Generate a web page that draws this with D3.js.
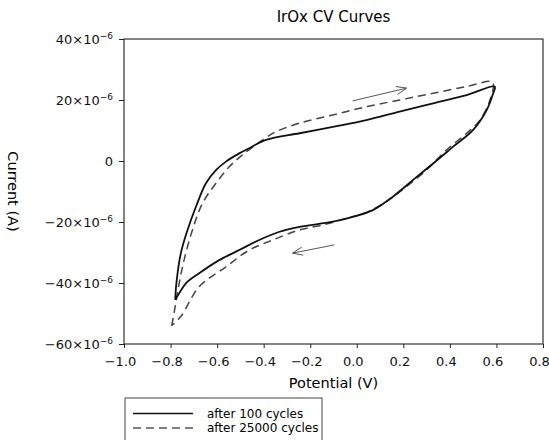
<!DOCTYPE html>
<html>
<head>
<meta charset="utf-8">
<script src="https://cdn.jsdelivr.net/npm/d3@7"></script>
<style>
  body { margin: 0; background: #fff; }
  svg { font-family: "DejaVu Sans", sans-serif; }
  .axis path, .axis line { stroke: #222; }
</style>
</head>
<body>
<svg width="549" height="440"></svg>
<script>
// potential (V) and current (x10^-6 A), after 100 cycles
var solidV = [-0.780, -0.775, -0.756, -0.727, -0.691, -0.648, -0.605, -0.562, -0.505, -0.462, -0.390, -0.246, -0.103, 0.041, 0.184, 0.328, 0.472, 0.593,
  0.586, 0.558, 0.500, 0.414, 0.328, 0.242, 0.155, 0.069, -0.017, -0.103, -0.246, -0.332, -0.419, -0.505, -0.591, -0.677, -0.734, -0.763, -0.780];
var solidI = [-45.5, -40.1, -30.3, -22.6, -15.0, -7.3, -3.0, -0.2, 2.5, 4.2, 6.9, 9.1, 11.2, 13.4, 16.2, 18.9, 21.6, 24.4,
  22.2, 16.7, 10.2, 4.7, -0.8, -6.2, -11.7, -16.1, -18.3, -19.9, -21.6, -23.2, -25.9, -29.2, -32.5, -36.8, -40.1, -43.4, -45.5];

// after 25000 cycles
var dashV = [-0.795, -0.785, -0.763, -0.742, -0.706, -0.663, -0.605, -0.548, -0.491, -0.404, -0.347, -0.246, -0.103, 0.041, 0.184, 0.328, 0.472, 0.583,
  0.572, 0.529, 0.472, 0.385, 0.299, 0.213, 0.127, 0.041, -0.045, -0.131, -0.246, -0.361, -0.462, -0.562, -0.677, -0.756, -0.795];
var dashI = [-54.0, -49.9, -40.1, -32.5, -22.6, -13.9, -7.3, -1.9, 2.0, 6.9, 9.6, 12.4, 15.1, 17.8, 20.0, 22.2, 24.4, 25.8,
  20.0, 13.4, 9.1, 3.6, -3.0, -8.4, -13.3, -16.9, -18.8, -20.7, -22.6, -25.9, -29.2, -34.7, -41.2, -51.0, -54.0];

var xTicks = [-1.0, -0.8, -0.6, -0.4, -0.2, 0.0, 0.2, 0.4, 0.6, 0.8];
var yTicks = [40, 20, 0, -20, -40, -60];

// arrows: [v0, i0, v1, i1]
var arrowUp = [-0.018, 19.7, 0.214, 23.9];
var arrowDown = [-0.096, -27.5, -0.276, -30.2];

var svg = d3.select("svg"),
  margin = { top: 39, right: 6, bottom: 96, left: 124 },
  width = +svg.attr("width") - margin.left - margin.right,
  height = +svg.attr("height") - margin.top - margin.bottom;

var x = d3.scaleLinear().domain([-1.0, 0.8]).range([0, width]);
var y = d3.scaleLinear().domain([-60, 40]).range([height, 0]);

var g = svg.append("g")
  .attr("transform", "translate(" + margin.left + "," + margin.top + ")");

// frame
g.append("rect")
  .attr("width", width).attr("height", height)
  .attr("fill", "none").attr("stroke", "#333").attr("stroke-width", 1.2);

var xAxis = g.append("g")
  .attr("class", "axis")
  .attr("transform", "translate(0," + height + ")")
  .call(d3.axisBottom(x).tickValues(xTicks).tickSize(4).tickSizeOuter(0)
    .tickFormat(function (d) { return d3.format(".1f")(d).replace("-", "\u2212"); }));
xAxis.attr("font-family", "DejaVu Sans").attr("font-size", 13);
xAxis.select(".domain").remove();
xAxis.selectAll("text").attr("dy", "1.15em").attr("dx", -4).attr("fill", "#111");

var yAxis = g.append("g")
  .attr("class", "axis")
  .call(d3.axisLeft(y).tickValues(yTicks).tickSize(5).tickSizeOuter(0).tickFormat(""));
yAxis.attr("font-family", "DejaVu Sans").attr("font-size", 13);
yAxis.select(".domain").remove();

yAxis.selectAll(".tick").append("text")
  .attr("x", -11).attr("dy", "0.35em")
  .attr("text-anchor", "end").attr("fill", "#111")
  .each(function (d) {
    var t = d3.select(this);
    if (d === 0) { t.text("0"); return; }
    t.append("tspan").text((d < 0 ? "\u2212" : "") + Math.abs(d) + "\u00d710");
    t.append("tspan").attr("dy", "-0.55em").attr("font-size", "9px").text("\u22126");
  });

// curves
var line = d3.line()
  .x(function (d) { return x(d[0]); })
  .y(function (d) { return y(d[1]); })
  .curve(d3.curveCatmullRom.alpha(0.5));

g.append("path")
  .datum(dashV.map(function (v, k) { return [v, dashI[k]]; }))
  .attr("d", line)
  .attr("fill", "none").attr("stroke", "#444").attr("stroke-width", 1.5)
  .attr("stroke-dasharray", "8,5");

g.append("path")
  .datum(solidV.map(function (v, k) { return [v, solidI[k]]; }))
  .attr("d", line)
  .attr("fill", "none").attr("stroke", "#111").attr("stroke-width", 1.8);

// arrows
function drawArrow(a) {
  var x0 = x(a[0]), y0 = y(a[1]), x1 = x(a[2]), y1 = y(a[3]);
  var ang = Math.atan2(y1 - y0, x1 - x0), len = 11, spread = 0.38;
  var p = g.append("g").attr("stroke", "#555").attr("stroke-width", 1).attr("fill", "none");
  p.append("line").attr("x1", x0).attr("y1", y0).attr("x2", x1).attr("y2", y1);
  [-spread, spread].forEach(function (s) {
    p.append("line").attr("x1", x1).attr("y1", y1)
      .attr("x2", x1 - len * Math.cos(ang + s)).attr("y2", y1 - len * Math.sin(ang + s));
  });
}
drawArrow(arrowUp);
drawArrow(arrowDown);

// title and axis labels
svg.append("text")
  .attr("x", margin.left + width / 2).attr("y", 22)
  .attr("text-anchor", "middle").attr("font-size", "15px")
  .text("IrOx CV Curves");

svg.append("text")
  .attr("x", margin.left + width / 2).attr("y", 388)
  .attr("text-anchor", "middle").attr("font-size", "14.5px")
  .text("Potential (V)");

svg.append("text")
  .attr("transform", "translate(8," + (margin.top + height / 2) + ") rotate(90)")
  .attr("text-anchor", "middle").attr("font-size", "14.5px")
  .text("Current (A)");

// legend
var legend = svg.append("g").attr("transform", "translate(125,398)");
legend.append("rect")
  .attr("width", 197).attr("height", 50)
  .attr("fill", "#fff").attr("stroke", "#444").attr("stroke-width", 1);
var items = [["after 100 cycles", null, "#111", 1.6], ["after 25000 cycles", "8,5", "#555", 1.3]];
items.forEach(function (it, k) {
  var yy = 15.5 + k * 14.5;
  legend.append("line")
    .attr("x1", 8).attr("x2", 68).attr("y1", yy).attr("y2", yy)
    .attr("stroke", it[2]).attr("stroke-width", it[3])
    .attr("stroke-dasharray", it[1]);
  legend.append("text")
    .attr("x", 82).attr("y", yy).attr("dy", "0.35em")
    .attr("font-size", "12px")
    .text(it[0]);
});
</script>
</body>
</html>
